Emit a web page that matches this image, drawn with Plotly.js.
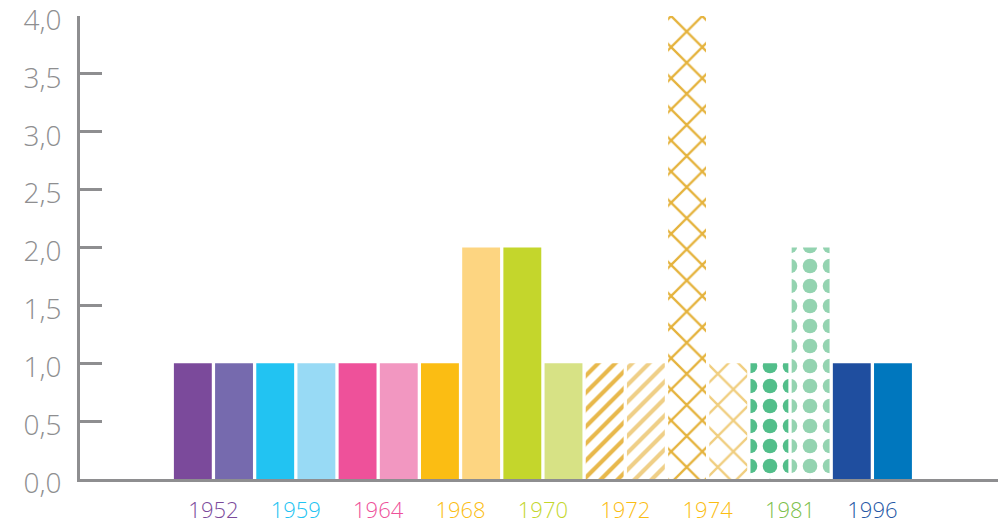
<!DOCTYPE html>
<html><head><meta charset="utf-8">
<script src="https://cdn.plot.ly/plotly-3.0.1.min.js"></script>
<style>html,body{margin:0;padding:0;background:#fff}#chart{width:998px;height:524px}</style>
</head><body><div id="chart"></div>
<script>
// Years (one pair of bars per year) and their label colours
const years = ['1952','1959','1964','1968','1970','1972','1974','1981','1996'];
const yearColors = ['#7B4A9B','#22C3F2','#EE519A','#FBBD13','#C4D62C','#FBBD13','#FBBD13','#7CC04B','#2557A5'];

// Bars (two per year)
const barNames = ['1952 A','1952 B','1959 A','1959 B','1964 A','1964 B','1968 A','1968 B','1970 A','1970 B',
                  '1972 A','1972 B','1974 A','1974 B','1981 A','1981 B','1996 A','1996 B'];
const values = [1,1,1,1,1,1,1,2,2,1,1,1,4,1,1,2,1,1];
const barColors = ['#7B4A9B','#766AAE','#22C3F2','#98DAF5','#EE519A','#F297C1','#FBBD13','#FDD581','#C4D62C','#D7E285',
                   '#E8B84B','#EFCF87','#E5B33D','#F0CE7F','#52BE8A','#93D3B0','#1F4E9F','#0077BE'];
const patternShapes = ['','','','','','','','','','','/','/','x','x','.','.','',''];
const patternSizes  = [8,8,8,8,8,8,8,8,8,8,12,12,22,22,20,20,8,8];
const patternSolid  = [0.3,0.3,0.3,0.3,0.3,0.3,0.3,0.3,0.3,0.3,0.35,0.35,0.2,0.2,0.42,0.42,0.3,0.3];

const yTicks = [0,0.5,1,1.5,2,2.5,3,3.5,4];

const xIdx = values.map((v,i)=>i);
const yearPos = years.map((y,i)=>2*i+0.5);
const yearText = years.map((y,i)=>'<span style="color:'+yearColors[i]+'">'+y+'</span>');

const gray = '#8E8E90';
const trace = {
  type:'bar', x:xIdx, y:values, text:barNames, hoverinfo:'text+y', textposition:'none',
  width:0.92,
  marker:{
    color:barColors,
    line:{width:0},
    pattern:{shape:patternShapes, fgcolor:barColors, bgcolor:'#ffffff', fillmode:'replace',
             size:patternSizes, solidity:patternSolid}
  }
};
const layout = {
  width:998, height:524,
  margin:{l:80, r:0, t:16, b:45},
  paper_bgcolor:'#fff', plot_bgcolor:'#fff',
  separators:', ',
  showlegend:false,
  font:{family:'"Open Sans", sans-serif', color:gray, weight:300},
  xaxis:{range:[-2.74,19.55], showgrid:false, zeroline:false, showline:true, linecolor:gray, linewidth:3,
         tickmode:'array', tickvals:yearPos, ticktext:yearText, ticks:'', ticklabelstandoff:10,
         tickfont:{size:22, weight:300}, automargin:false, fixedrange:true},
  yaxis:{range:[0,4], showgrid:false, zeroline:false, showline:true, linecolor:gray, linewidth:3,
         tickmode:'array', tickvals:yTicks, tickformat:'.1f', ticks:'inside', ticklen:22, tickwidth:3, tickcolor:gray,
         tickfont:{size:28, weight:300, color:gray}, ticklabelstandoff:10, ticklabelshift:4, ticklabeloverflow:'allow',
         automargin:false, fixedrange:true}
};
Plotly.newPlot('chart',[trace],layout,{displayModeBar:false, staticPlot:true});
</script></body></html>
